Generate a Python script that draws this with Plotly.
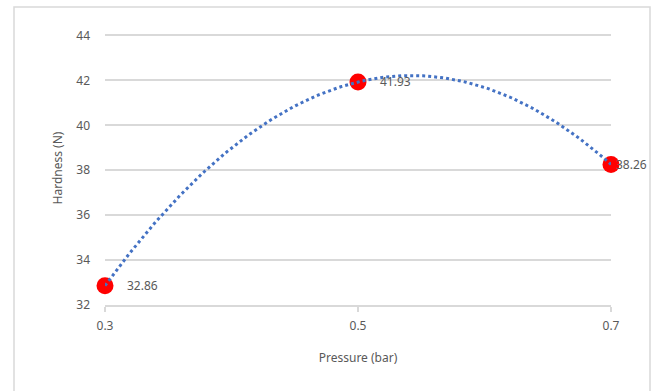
import numpy as np
import plotly.graph_objects as go

pressure = [0.3, 0.5, 0.7]
hardness = [32.86, 41.93, 38.26]
x_ticks = [0.3, 0.5, 0.7]
x_tick_labels = ["0.3", "0.5", "0.7"]
y_ticks = [32, 34, 36, 38, 40, 42, 44]
label_shift = [20, 20, 3]

# polynomial (order 2) trendline derived from the data, as in the spreadsheet
coef = np.polyfit(pressure, hardness, 2)
tx = np.linspace(min(pressure), max(pressure), 200)
ty = np.polyval(coef, tx)

FONT = "Noto Sans"
GREY = "#595959"

fig = go.Figure()
fig.add_trace(go.Scatter(
    x=pressure, y=hardness, mode="markers",
    marker=dict(color="#FF0000", size=17, line=dict(width=0)),
    cliponaxis=False, showlegend=False,
))
fig.add_trace(go.Scatter(
    x=tx, y=ty, mode="lines",
    line=dict(color="#4472C4", width=3, dash="dot"),
    hoverinfo="skip", showlegend=False,
))

for xv, yv, sh in zip(pressure, hardness, label_shift):
    fig.add_annotation(
        x=xv, y=yv, text=f"{yv:.2f}", showarrow=False,
        xanchor="left", yanchor="middle", xshift=sh,
        font=dict(family=FONT, size=12, color=GREY),
    )

# plot area geometry in pixels (for the outer border)
L, R, T, B = 105, 611, 31, 305
pw, ph = R - L, B - T
fig.add_shape(
    type="rect", xref="paper", yref="paper",
    x0=(14 - L) / pw, x1=(650 - L) / pw,
    y0=(B - 400) / ph, y1=(B - 7) / ph,
    line=dict(color="#D9D9D9", width=1.5), fillcolor="rgba(0,0,0,0)",
    layer="below",
)

fig.update_layout(
    width=657, height=391,
    margin=dict(l=L, r=657 - R, t=T, b=391 - B),
    paper_bgcolor="white", plot_bgcolor="white",
    font=dict(family=FONT, size=12, color=GREY),
    xaxis=dict(
        range=[0.3, 0.7], tickvals=x_ticks, ticktext=x_tick_labels,
        showgrid=False, zeroline=False,
        showline=True, linecolor="#D9D9D9", linewidth=1.5,
        ticks="outside", ticklen=5, tickcolor="#D9D9D9", tickwidth=1.5,
        ticklabelstandoff=4,
        tickfont=dict(family=FONT, size=12, color=GREY),
        title=dict(text="Pressure (bar)", standoff=20,
                   font=dict(family=FONT, size=12, color=GREY)),
    ),
    yaxis=dict(
        range=[32, 44.2], tickvals=y_ticks,
        showgrid=True, gridcolor="#D9D9D9", gridwidth=1.5,
        zeroline=False, showline=False, ticks="",
        ticklabelstandoff=14,
        tickfont=dict(family=FONT, size=12, color=GREY),
        title=dict(text="Hardness (N)", standoff=11,
                   font=dict(family=FONT, size=12, color=GREY)),
    ),
)

fig.write_html("out.html")
